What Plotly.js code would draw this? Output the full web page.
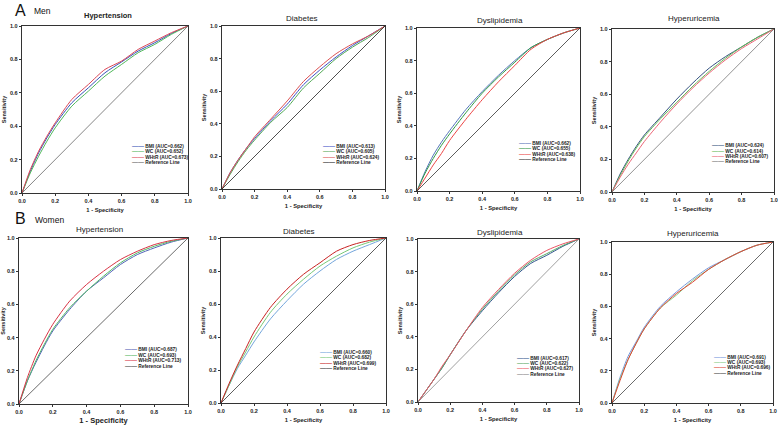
<!DOCTYPE html>
<html><head><meta charset="utf-8">
<script src="https://cdn.plot.ly/plotly-3.0.1.min.js"></script>
<style>html,body{margin:0;padding:0;background:#fff}#chart{width:778px;height:425px}</style>
</head><body><div id="chart"></div>
<script>
// ---------- DATA ----------
const fpr = [0,0.05,0.1,0.15,0.2,0.3,0.4,0.5,0.6,0.7,0.8,0.9,1];
const refX = [0,1];
const refY = [0,1];
const metrics = ['BMI','WC','WHtR'];
const panelTitles = ['Hypertension','Diabetes','Dyslipidemia','Hyperuricemia','Hypertension','Diabetes','Dyslipidemia','Hyperuricemia'];
const groupLetters = ['A','B'];
const groupNames = ['Men','Women'];

// Men
const menHtnBMI  = [0,0.13,0.24,0.33,0.41,0.54,0.63,0.72,0.785,0.85,0.90,0.955,1];
const menHtnWC   = [0,0.12,0.22,0.31,0.39,0.52,0.61,0.70,0.77,0.84,0.89,0.95,1];
const menHtnWHtR = [0,0.14,0.25,0.34,0.42,0.56,0.65,0.74,0.79,0.86,0.91,0.96,1];
const menHtnAUC  = ['0.662','0.652','0.673'];

const menDmBMI  = [0,0.10,0.18,0.25,0.31,0.42,0.52,0.64,0.73,0.81,0.88,0.94,1];
const menDmWC   = [0,0.09,0.17,0.24,0.30,0.41,0.50,0.62,0.71,0.80,0.87,0.93,1];
const menDmWHtR = [0,0.10,0.18,0.25,0.32,0.43,0.54,0.66,0.75,0.83,0.89,0.94,1];
const menDmAUC  = ['0.613','0.605','0.624'];

const menDlBMI  = [0,0.12,0.22,0.30,0.37,0.50,0.61,0.71,0.80,0.88,0.93,0.97,1];
const menDlWC   = [0,0.11,0.20,0.28,0.35,0.48,0.60,0.70,0.79,0.88,0.93,0.97,1];
const menDlWHtR = [0,0.08,0.16,0.23,0.31,0.44,0.56,0.67,0.77,0.87,0.93,0.97,1];
const menDlAUC  = ['0.662','0.655','0.638'];

const menHuBMI  = [0,0.11,0.20,0.28,0.35,0.46,0.57,0.67,0.76,0.83,0.89,0.95,1];
const menHuWC   = [0,0.10,0.19,0.27,0.34,0.45,0.55,0.65,0.74,0.82,0.89,0.95,1];
const menHuWHtR = [0,0.09,0.17,0.24,0.31,0.43,0.54,0.64,0.73,0.81,0.88,0.94,1];
const menHuAUC  = ['0.624','0.614','0.607'];

// Women
const womHtnBMI  = [0,0.14,0.25,0.35,0.44,0.57,0.68,0.76,0.84,0.90,0.94,0.975,1];
const womHtnWC   = [0,0.14,0.26,0.36,0.45,0.58,0.68,0.77,0.85,0.91,0.95,0.98,1];
const womHtnWHtR = [0,0.16,0.29,0.39,0.48,0.62,0.72,0.80,0.87,0.92,0.96,0.985,1];
const womHtnAUC  = ['0.687','0.693','0.713'];

const womDmBMI  = [0,0.11,0.21,0.29,0.37,0.51,0.62,0.72,0.80,0.87,0.92,0.96,1];
const womDmWC   = [0,0.11,0.22,0.31,0.40,0.55,0.66,0.75,0.83,0.89,0.94,0.975,1];
const womDmWHtR = [0,0.12,0.23,0.33,0.43,0.58,0.69,0.78,0.85,0.92,0.96,0.985,1];
const womDmAUC  = ['0.660','0.682','0.699'];

const womDlBMI  = [0,0.07,0.14,0.21,0.29,0.44,0.56,0.67,0.77,0.85,0.90,0.955,1];
const womDlWC   = [0,0.07,0.14,0.21,0.29,0.44,0.57,0.68,0.78,0.86,0.91,0.96,1];
const womDlWHtR = [0,0.07,0.14,0.22,0.29,0.44,0.58,0.69,0.79,0.87,0.93,0.97,1];
const womDlAUC  = ['0.617','0.622','0.627'];

const womHuBMI  = [0,0.16,0.29,0.38,0.47,0.60,0.69,0.77,0.84,0.89,0.94,0.98,1];
const womHuWC   = [0,0.15,0.27,0.37,0.46,0.59,0.67,0.76,0.83,0.89,0.94,0.98,1];
const womHuWHtR = [0,0.14,0.27,0.37,0.46,0.59,0.68,0.75,0.83,0.89,0.94,0.98,1];
const womHuAUC  = ['0.691','0.693','0.696'];

const panelSeries = [
  [menHtnBMI, menHtnWC, menHtnWHtR], [menDmBMI, menDmWC, menDmWHtR],
  [menDlBMI, menDlWC, menDlWHtR],    [menHuBMI, menHuWC, menHuWHtR],
  [womHtnBMI, womHtnWC, womHtnWHtR], [womDmBMI, womDmWC, womDmWHtR],
  [womDlBMI, womDlWC, womDlWHtR],    [womHuBMI, womHuWC, womHuWHtR]
];
const panelAUC = [menHtnAUC, menDmAUC, menDlAUC, menHuAUC, womHtnAUC, womDmAUC, womDlAUC, womHuAUC];

// ---------- STYLE / LAYOUT ----------
const W = 778, H = 425;
// plot boxes in pixels: [x0, x1, yTop, yBottom]
const boxes = [
  [22,188,26,193],[222,385,26,189],[417,580,28,191],[612,774,29,192],
  [19,188,238,404],[221,386,238,403],[418,579,239,402],[612,773,242,403]
];
const colors = [
  ['#3652b8','#4fb85a','#dc4656','#666666'],
  ['#4050c8','#52aa55','#dc5050','#222222'],
  ['#5576bb','#2f9a44','#ec4444','#333333'],
  ['#34527f','#66bb55','#ec6677','#777777'],
  ['#5163b8','#52b866','#d83344','#444444'],
  ['#74a6dc','#77c877','#c82222','#333333'],
  ['#33558f','#55aa66','#ec5566','#888888'],
  ['#7799dd','#88cc88','#dd4433','#444444']
];
const titlePos = [[108,16],[302,19],[500,20],[694,19],[99,230],[299,231],[500,232],[693,233]];
const legPos = [[0.65,0.283],[0.61,0.264],[0.613,0.296],[0.605,0.287],[0.615,0.33],[0.588,0.311],[0.60,0.272],[0.62,0.288]];
const legStep = 0.033;
const FONT = 'Liberation Sans, Arial, sans-serif';

const traces = [];
const layout = {
  width: W, height: H, margin: {l:0,r:0,t:0,b:0},
  paper_bgcolor: '#fff', plot_bgcolor: '#fff',
  showlegend: false, font: {family: FONT, color: '#222'},
  annotations: []
};

boxes.forEach((b, i) => {
  const n = i + 1;
  const xa = n === 1 ? 'x' : 'x' + n, ya = n === 1 ? 'y' : 'y' + n;
  const xk = n === 1 ? 'xaxis' : 'xaxis' + n, yk = n === 1 ? 'yaxis' : 'yaxis' + n;
  const c = colors[i];
  const big = i === 4;
  panelSeries[i].forEach((ys, k) => {
    traces.push({x: fpr, y: ys, xaxis: xa, yaxis: ya, type: 'scatter', mode: 'lines',
      line: {color: c[k], width: 1, shape: 'spline', smoothing: 0.7}, name: metrics[k], hoverinfo: 'skip'});
  });
  traces.push({x: refX, y: refY, xaxis: xa, yaxis: ya, type: 'scatter', mode: 'lines',
    line: {color: c[3], width: 0.8}, name: 'Reference Line', hoverinfo: 'skip'});

  const axCommon = {
    range: [0, 1], tickvals: [0,0.2,0.4,0.6,0.8,1], ticktext: ['0.0','0.2','0.4','0.6','0.8','1.0'],
    showgrid: false, zeroline: false, showline: true, mirror: true,
    linecolor: '#333', linewidth: 1.3, ticks: 'outside', ticklen: 2, tickwidth: 1, tickcolor: '#333',
    tickfont: {size: 5.5, family: FONT, weight: 'bold', color: '#222'}, fixedrange: true
  };
  layout[xk] = Object.assign({}, axCommon, {
    domain: [b[0]/W, b[1]/W], anchor: ya,
    title: {text: '1 - Specificity', font: {size: big ? 7.5 : 5.8, family: FONT, weight: 'bold', color: '#222'}, standoff: big ? 7 : 5}
  });
  layout[yk] = Object.assign({}, axCommon, {
    domain: [1 - b[3]/H, 1 - b[2]/H], anchor: xa,
    title: {text: 'Sensitivity', font: {size: 5.5, family: FONT, weight: 'bold', color: '#222'}, standoff: 3}
  });

  // subplot title
  layout.annotations.push({xref: 'paper', yref: 'paper', x: titlePos[i][0]/W, y: 1 - titlePos[i][1]/H,
    text: i === 0 ? '<b>' + panelTitles[i] + '</b>' : panelTitles[i], showarrow: false,
    xanchor: 'center', yanchor: 'middle', font: {size: i === 0 ? 7.5 : 8, family: FONT, color: '#222'}});

  // legend rows (text)
  const labels = metrics.map((m, k) => m + ' (AUC=' + panelAUC[i][k] + ')').concat(['Reference Line']);
  labels.forEach((lab, k) => {
    layout.annotations.push({xref: xa, yref: ya, x: legPos[i][0], y: legPos[i][1] - k*legStep,
      text: '<span style="color:' + c[k] + ';font-size:6px;font-weight:bold">——</span> <b>' + lab + '</b>', showarrow: false,
      xanchor: 'left', yanchor: 'middle', font: {size: 4.8, family: FONT, color: '#222'}});
  });
});

// group labels
const grpPos = [[{x:13,y:10},{x:32,y:11}],[{x:13,y:218},{x:33,y:220}]];
groupLetters.forEach((g, r) => {
  layout.annotations.push({xref:'paper', yref:'paper', x: grpPos[r][0].x/W, y: 1 - grpPos[r][0].y/H,
    text: g, showarrow:false, xanchor:'left', yanchor:'middle', font:{size:16, family: FONT, color:'#111'}});
  layout.annotations.push({xref:'paper', yref:'paper', x: grpPos[r][1].x/W, y: 1 - grpPos[r][1].y/H,
    text: groupNames[r], showarrow:false, xanchor:'left', yanchor:'middle', font:{size:8.5, family: FONT, color:'#111'}});
});

Plotly.newPlot('chart', traces, layout, {staticPlot: true, displayModeBar: false});
</script>
</body></html>
